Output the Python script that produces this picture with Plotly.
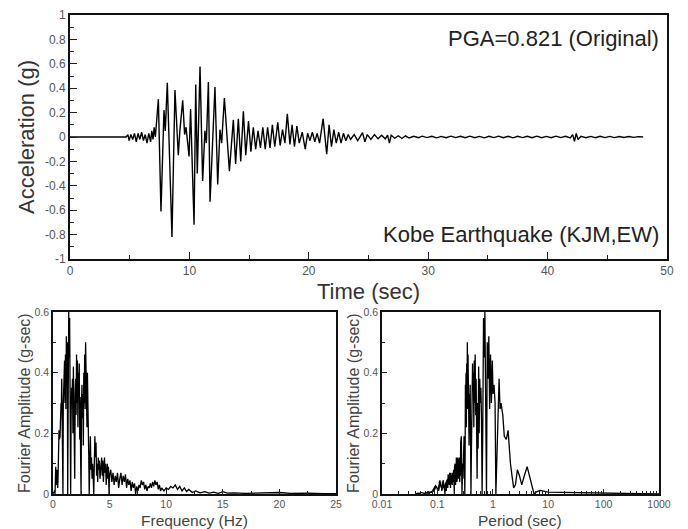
import plotly.graph_objects as go

# ---------------- data ----------------
time_sec = [0, 4.7, 4.85, 4.95, 5.1, 5.25, 5.4, 5.55, 5.7, 5.85, 6.0, 6.15, 6.3, 6.45, 6.6, 6.75,
            6.85, 6.95, 7.05, 7.15, 7.4, 7.62, 7.87, 7.98, 8.15, 8.54, 8.79, 9.07, 9.2, 9.44,
            9.6, 9.72, 9.97, 10.1, 10.39, 10.53, 10.66, 10.89, 11.11, 11.3, 11.42, 11.59, 11.73,
            12.14, 12.37, 12.56, 12.7, 12.93, 13.35, 13.68, 13.87, 14.1, 14.3, 14.52, 14.72,
            14.95, 15.15, 15.35, 15.55, 15.75, 15.95, 16.15, 16.35, 16.55, 16.75, 16.95, 17.15,
            17.4, 17.6, 17.8, 18.0, 18.2, 18.42, 18.6, 18.8, 19.0, 19.2, 19.45, 19.7, 19.9, 20.1,
            20.3, 20.5, 20.7, 20.9, 21.2, 21.5, 21.7, 21.9, 22.1, 22.3, 22.5, 22.7, 22.9, 23.1,
            23.3, 23.5, 23.8, 24.1, 24.5, 24.7, 24.9, 25.2, 25.5, 25.8, 26.1, 26.4, 26.6, 26.75,
            26.9, 27.2, 27.5, 27.8, 28.1, 28.4, 28.8, 29.2, 29.5, 29.9, 30.3, 30.7, 31.1, 31.5,
            31.9, 32.3, 32.7, 33.1, 33.5, 33.9, 34.3, 34.7, 35.1, 35.5, 35.9, 36.3, 36.7, 37.1,
            37.5, 37.9, 38.3, 38.7, 39.1, 39.5, 39.9, 40.3, 40.7, 41.1, 41.5, 41.9, 42.1, 42.25,
            42.4, 42.55, 42.8, 43.2, 43.6, 44.0, 44.4, 44.8, 45.2, 45.6, 46.0, 46.4, 46.8, 47.2,
            47.6, 48.0]
accel_g = [0, 0, 0.02, -0.03, 0.02, -0.02, 0.03, -0.04, 0.03, -0.02, 0.04, -0.03, 0.02, -0.05,
           0.03, -0.04, 0.05, -0.02, 0.08, 0.0, 0.31, -0.61, 0.22, 0.05, 0.445, -0.82, 0.385,
           -0.15, 0.05, 0.30, 0.02, 0.08, -0.16, 0.23, -0.72, 0.43, -0.30, 0.577, -0.36, 0.05,
           -0.05, 0.45, -0.53, 0.41, -0.39, 0.06, -0.05, 0.32, -0.28, 0.14, -0.22, 0.15, -0.20,
           0.21, -0.15, 0.13, -0.12, 0.08, -0.10, 0.05, -0.09, 0.08, -0.10, 0.08, -0.09, 0.10,
           -0.08, 0.12, -0.07, 0.06, -0.05, 0.19, -0.06, 0.10, -0.08, 0.09, -0.05, 0.04, -0.10,
           0.03, -0.03, 0.04, -0.04, 0.03, -0.05, 0.15, -0.14, 0.10, -0.08, 0.06, -0.05, 0.04,
           -0.05, 0.03, -0.03, 0.02, -0.02, 0.02, -0.03, 0.035, -0.04, 0.02, -0.02, 0.02, -0.015,
           0.015, -0.015, 0.015, -0.05, 0.015, -0.01, 0.01, -0.012, 0.01, -0.008, 0.006, -0.006, 0.007,
           -0.005, 0.006, -0.007, 0.005, -0.006, 0.007, -0.005, 0.006, -0.006, 0.007, -0.006, 0.005,
           -0.007, 0.006, -0.005, 0.007, -0.006, 0.006, -0.007, 0.006, -0.005, 0.006, -0.006, 0.007,
           -0.006, 0.005, -0.006, 0.007, -0.005, 0.006, -0.007, 0.02, -0.035, 0.03, -0.02, 0.006,
           -0.006, 0.005, -0.006, 0.006, -0.005, 0.005, -0.005, 0.004, -0.004, 0.004, -0.003, 0.003, 0]

freq_hz = [0.001, 0.02, 0.1, 0.14, 0.16, 0.18, 0.21, 0.24, 0.27, 0.3, 0.33, 0.36, 0.39, 0.42,
           0.45, 0.48, 0.53, 0.57, 0.62, 0.66, 0.71, 0.74, 0.77, 0.81, 0.85, 0.88, 0.91, 0.95,
           0.99, 1.02, 1.06, 1.1, 1.14, 1.18, 1.22, 1.26, 1.3, 1.34, 1.39, 1.43, 1.47, 1.52,
           1.56, 1.6, 1.64, 1.68, 1.72, 1.76, 1.8, 1.84, 1.88, 1.92, 1.96, 2.0, 2.04, 2.08, 2.12,
           2.16, 2.2, 2.24, 2.28, 2.32, 2.36, 2.4, 2.44, 2.48, 2.52, 2.56, 2.6, 2.64, 2.68, 2.72,
           2.76, 2.8, 2.84, 2.88, 2.92, 2.96, 3.0, 3.04, 3.08, 3.12, 3.16, 3.2, 3.25, 3.3, 3.35,
           3.4, 3.45, 3.5, 3.55, 3.6, 3.65, 3.7, 3.75, 3.8, 3.85, 3.9, 3.95, 4.0, 4.05, 4.1, 4.15,
           4.2, 4.3, 4.35, 4.4, 4.45, 4.5, 4.55, 4.6, 4.65, 4.7, 4.75, 4.8, 4.85, 4.9, 4.95, 5.0,
           5.1, 5.2, 5.3, 5.4, 5.5, 5.6, 5.7, 5.8, 5.9, 6.0, 6.1, 6.2, 6.3, 6.4, 6.5, 6.6, 6.7,
           6.8, 6.9, 7.0, 7.1, 7.2, 7.3, 7.4, 7.5, 7.6, 7.7, 7.8, 7.9, 8.0, 8.1, 8.2, 8.3, 8.4,
           8.5, 8.6, 8.7, 8.8, 8.9, 9.0, 9.1, 9.2, 9.3, 9.4, 9.5, 9.6, 9.8, 10.0, 10.2, 10.4,
           10.6, 10.8, 11.0, 11.2, 11.4, 11.6, 11.8, 12.0, 12.3, 12.6, 13.0, 13.4, 13.8, 14.2,
           14.6, 15.0, 15.4, 16.0, 17.0, 18.0, 19.0, 20.0, 21.0, 22.5, 24.0, 25.0]
fourier_amp = [0, 0.004, 0.006, 0.012, 0.008, 0.0, 0.05, 0.09, 0.06, 0.03, 0.06, 0.08, 0.03,
               0.02, 0.06, 0.10, 0.21, 0.18, 0.19, 0.26, 0.30, 0.28, 0.38, 0.24, 0.07, 0.0,
               0.30, 0.36, 0.33, 0.44, 0.30, 0.46, 0.28, 0.52, 0.38, 0.50, 0.0, 0.30, 0.60,
               0.45, 0.58, 0.20, 0.0, 0.25, 0.35, 0.30, 0.38, 0.20, 0.42, 0.15, 0.30, 0.05,
               0.33, 0.38, 0.26, 0.46, 0.30, 0.44, 0.22, 0.40, 0.34, 0.43, 0.18, 0.32, 0.12,
               0.0, 0.30, 0.36, 0.25, 0.33, 0.16, 0.40, 0.30, 0.46, 0.28, 0.50, 0.32, 0.43,
               0.22, 0.40, 0.30, 0.36, 0.12, 0.0, 0.14, 0.19, 0.08, 0.12, 0.05, 0.10, 0.06,
               0.0, 0.10, 0.19, 0.12, 0.17, 0.06, 0.10, 0.04, 0.12, 0.08, 0.11, 0.05, 0.09,
               0.12, 0.06, 0.11, 0.04, 0.09, 0.12, 0.07, 0.10, 0.03, 0.08, 0.10, 0.05, 0.09,
               0.0, 0.06, 0.08, 0.04, 0.07, 0.03, 0.06, 0.04, 0.07, 0.02, 0.05, 0.07, 0.03,
               0.06, 0.04, 0.065, 0.02, 0.05, 0.03, 0.045, 0.01, 0.04, 0.02, 0.035, 0.0, 0.025,
               0.01, 0.03, 0.02, 0.045, 0.03, 0.04, 0.015, 0.03, 0.01, 0.025, 0.02, 0.035,
               0.02, 0.04, 0.025, 0.045, 0.03, 0.04, 0.015, 0.03, 0.01, 0.02, 0.01, 0.02,
               0.015, 0.025, 0.02, 0.03, 0.015, 0.025, 0.01, 0.02, 0.008, 0.015, 0.005, 0.01,
               0.004, 0.008, 0.003, 0.006, 0.002, 0.008, 0.003, 0.004, 0.002, 0.003, 0.002,
               0.005, 0.002, 0.003, 0.001, 0.001]
period_sec = [1.0 / f for f in freq_hz]

top_yticks = [-1, -0.8, -0.6, -0.4, -0.2, 0, 0.2, 0.4, 0.6, 0.8, 1]
top_yticktext = ["-1", "-0.8", "-0.6", "-0.4", "-0.2", "0", "0.2", "0.4", "0.6", "0.8", "1"]
top_xticks = [0, 10, 20, 30, 40, 50]
freq_ticks = [0, 5, 10, 15, 20, 25]
amp_ticks = [0, 0.2, 0.4, 0.6]
period_ticks = [0.01, 0.1, 1, 10, 100, 1000]
period_ticktext = ["0.01", "0.1", "1", "10", "100", "1000"]

# ---------------- figure ----------------
# the page body has an 8 px margin, so the figure is 8 px smaller and offset
OFF = 8
W, H = 688 - OFF, 529 - OFF
FONT = "Liberation Sans, Arial, Helvetica, sans-serif"
TICKC = "#555555"


def px_x(p):
    return (p - OFF) / W


def px_y(p):
    return 1 - (p - OFF) / H


fig = go.Figure()
fig.add_trace(go.Scatter(x=time_sec, y=accel_g, mode="lines",
                         line=dict(color="black", width=1.4), xaxis="x", yaxis="y",
                         showlegend=False, hoverinfo="skip"))
fig.add_trace(go.Scatter(x=freq_hz, y=fourier_amp, mode="lines",
                         line=dict(color="black", width=1.3), xaxis="x2", yaxis="y2",
                         showlegend=False, hoverinfo="skip"))
fig.add_trace(go.Scatter(x=period_sec, y=fourier_amp, mode="lines",
                         line=dict(color="black", width=1.3), xaxis="x3", yaxis="y3",
                         showlegend=False, hoverinfo="skip"))

common = dict(showgrid=False, zeroline=False, showline=True, mirror=True, automargin=False,
              ticks="inside", tickcolor="#222", linecolor="#111")

fig.update_layout(
    width=W, height=H,
    margin=dict(l=0, r=0, t=0, b=0, pad=0, autoexpand=False),
    paper_bgcolor="white", plot_bgcolor="white",
    font=dict(family=FONT, color="#222"),
    xaxis=dict(domain=[px_x(70), px_x(667)], range=[0, 50], anchor="y",
               tickvals=top_xticks, ticklen=7, linewidth=2,
               tickfont=dict(size=12, color=TICKC),
               minor=dict(ticks="inside", ticklen=4, dtick=5, tickcolor="#222"),
               **common),
    yaxis=dict(domain=[px_y(259), px_y(15)], range=[-1, 1], anchor="x",
               tickvals=top_yticks, ticktext=top_yticktext, ticklen=7, linewidth=2,
               tickfont=dict(size=12, color=TICKC),
               minor=dict(ticks="inside", ticklen=4, dtick=0.1, tickcolor="#222"),
               **common),
    xaxis2=dict(domain=[px_x(53), px_x(336)], range=[0, 25], anchor="y2",
                tickvals=freq_ticks, ticklen=5, linewidth=1.5,
                tickfont=dict(size=10.5, color=TICKC),
                minor=dict(ticks="inside", ticklen=3, dtick=2.5, tickcolor="#222"),
                **common),
    yaxis2=dict(domain=[px_y(494), px_y(312)], range=[0, 0.6], anchor="x2",
                tickvals=amp_ticks, ticklen=5, linewidth=1.5,
                tickfont=dict(size=10.5, color=TICKC),
                minor=dict(ticks="inside", ticklen=3, dtick=0.1, tickcolor="#222"),
                **common),
    xaxis3=dict(domain=[px_x(382), px_x(659)], type="log", range=[-2, 3], anchor="y3",
                tickvals=period_ticks, ticktext=period_ticktext, ticklen=5, linewidth=1.5,
                tickfont=dict(size=10.5, color=TICKC),
                minor=dict(ticks="inside", ticklen=3, dtick="D1", tickcolor="#222"),
                **common),
    yaxis3=dict(domain=[px_y(494), px_y(312)], range=[0, 0.6], anchor="x3",
                tickvals=amp_ticks, ticklen=5, linewidth=1.5,
                tickfont=dict(size=10.5, color=TICKC),
                minor=dict(ticks="inside", ticklen=3, dtick=0.1, tickcolor="#222"),
                **common),
)

ann = [
    dict(text="PGA=0.821 (Original)", x=px_x(661), y=px_y(39), xanchor="right",
         yanchor="middle", font=dict(size=22, color="#222")),
    dict(text="Kobe Earthquake (KJM,EW)", x=px_x(661), y=px_y(234), xanchor="right",
         yanchor="middle", font=dict(size=22, color="#222")),
    dict(text="Acceleration (g)", x=px_x(26), y=px_y(137), textangle=-90,
         xanchor="center", yanchor="middle", font=dict(size=22, color="#333")),
    dict(text="Time (sec)", x=px_x(368), y=px_y(291), xanchor="center",
         yanchor="middle", font=dict(size=22, color="#333")),
    dict(text="Frequency (Hz)", x=px_x(194), y=px_y(520), xanchor="center",
         yanchor="middle", font=dict(size=15.5, color="#444")),
    dict(text="Period (sec)", x=px_x(520), y=px_y(520), xanchor="center",
         yanchor="middle", font=dict(size=15.5, color="#444")),
    dict(text="Fourier Amplitude (g-sec)", x=px_x(24), y=px_y(403), textangle=-90,
         xanchor="center", yanchor="middle", font=dict(size=16, color="#444")),
    dict(text="Fourier Amplitude (g-sec)", x=px_x(353), y=px_y(403), textangle=-90,
         xanchor="center", yanchor="middle", font=dict(size=16, color="#444")),
]
for a in ann:
    a.update(xref="paper", yref="paper", showarrow=False)
fig.update_layout(annotations=ann)

fig.write_html("out.html")
